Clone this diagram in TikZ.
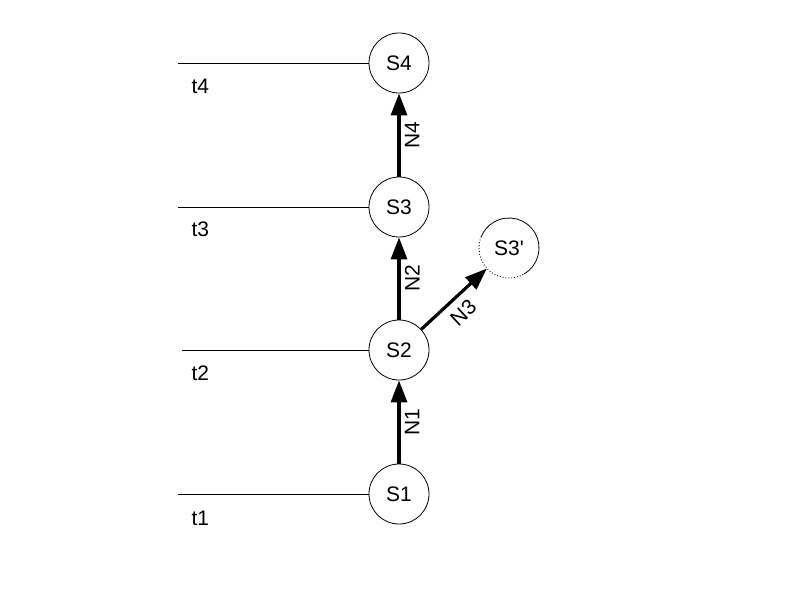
\documentclass[tikz,border=0pt]{standalone}
\usepackage{fontspec}
\setmainfont{Liberation Sans}
\usetikzlibrary{arrows.meta}
\begin{document}
\begin{tikzpicture}[x=1pt,y=-1pt,
  state/.style={circle,draw,line width=0.8pt,minimum size=60pt,inner sep=0pt,font=\fontsize{21}{21}\selectfont},
  ghost/.style={circle,minimum size=60pt,inner sep=0pt,font=\fontsize{21}{21}\selectfont},
  tline/.style={line width=0.8pt},
  tlabel/.style={font=\fontsize{21}{21}\selectfont,anchor=west},
  trans/.style={line width=3.2pt,-{Triangle[length=22pt,width=16pt]}},
  nlabel/.style={font=\fontsize{21}{21}\selectfont}]
\useasboundingbox (0,0) rectangle (794,604);
\node[state] (S4) at (399,63) {S4};
\node[state] (S3) at (399,207) {S3};
\node[state] (S2) at (399,350) {S2};
\node[state] (S1) at (399,494) {S1};
\node[ghost] (S3p) at (509,248) {S3\textquotesingle};
\draw[line width=0.8pt] (S3p.center) ++(60:30) arc[start angle=60,end angle=-158,radius=30];
\draw[line width=0.9pt,dotted] (S3p.center) ++(-158:30) arc[start angle=-158,end angle=-300,radius=30];
\coordinate (l4) at (178,63);
\coordinate (l3) at (178,207);
\coordinate (l2) at (182,350);
\coordinate (l1) at (178,494);
\draw[tline] (l4) -- (S4.west);
\draw[tline] (l3) -- (S3.west);
\draw[tline] (l2) -- (S2.west);
\draw[tline] (l1) -- (S1.west);
\node[tlabel] (t4) at (188,86) {t4};
\node[tlabel] (t3) at (188,229) {t3};
\node[tlabel] (t2) at (188,373) {t2};
\node[tlabel] (t1) at (188,518) {t1};
\draw[trans] (S1) -- (S2) node[nlabel,midway,rotate=90,below=1pt] (N1) {N1};
\draw[trans] (S2) -- (S3) node[nlabel,midway,rotate=90,below=1pt] (N2) {N2};
\draw[trans] (S3) -- (S4) node[nlabel,midway,rotate=90,below=1pt] (N4) {N4};
\draw[trans] (S2) -- (S3p) node[nlabel,pos=0.47,sloped,below=4pt] (N3) {N3};
\end{tikzpicture}
\end{document}
